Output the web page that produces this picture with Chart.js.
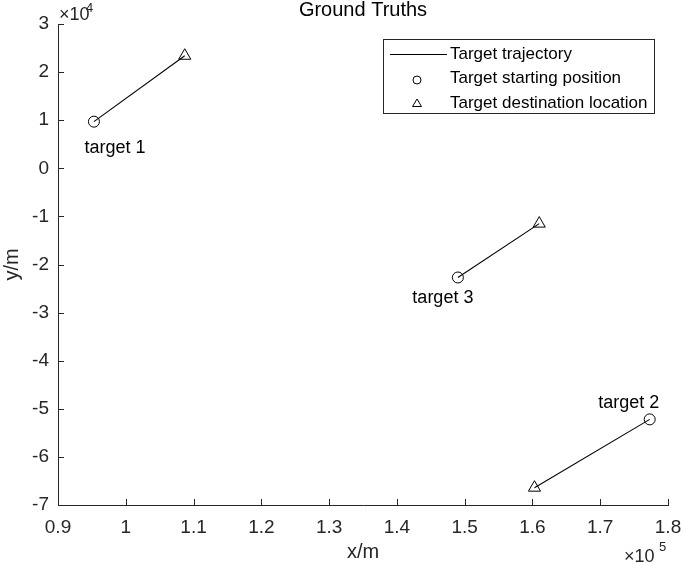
<!DOCTYPE html>
<html>
<head>
<meta charset="utf-8">
<script src="https://cdn.jsdelivr.net/npm/chart.js@4.4.0/dist/chart.umd.min.js"></script>
<style>
  html, body { margin: 0; padding: 0; background: #fff; }
  #wrap { width: 685px; height: 563px; }
</style>
</head>
<body>
<div id="wrap"><canvas id="chart"></canvas></div>
<script>
// Ground truth trajectories (x in m, y in m)
const targetNames = ['target 1', 'target 2', 'target 3'];
const startX = [95300, 177300, 149000];
const startY = [9700, -52200, -22700];
const endX = [108700, 160300, 161000];
const endY = [23400, -66400, -11500];

const xTicks = [90000, 100000, 110000, 120000, 130000, 140000, 150000, 160000, 170000, 180000];
const yTicks = [30000, 20000, 10000, 0, -10000, -20000, -30000, -40000, -50000, -60000, -70000];

const legendItems = ['Target trajectory', 'Target starting position', 'Target destination location'];

// label offsets (pixels) from starting point
const labelOffsets = [[21, 26], [-21, -16], [-15, 21]];

const FONT = '"Liberation Sans", Arial, Helvetica, sans-serif';
const AX = '#262626';

const lineSets = targetNames.map((name, i) => ({
    label: name,
    data: [{ x: startX[i], y: startY[i] }, { x: endX[i], y: endY[i] }],
    showLine: true,
    borderColor: '#000',
    borderWidth: 1.1,
    pointRadius: 0
}));

const startSet = {
    label: 'start',
    data: startX.map((x, i) => ({ x: x, y: startY[i] })),
    pointStyle: 'circle',
    pointRadius: 5.5,
    borderColor: '#000',
    backgroundColor: 'rgba(0,0,0,0)',
    borderWidth: 1
};

const endSet = {
    label: 'end',
    data: endX.map((x, i) => ({ x: x, y: endY[i] })),
    pointStyle: 'triangle',
    pointRadius: 7,
    borderColor: '#000',
    backgroundColor: 'rgba(0,0,0,0)',
    borderWidth: 1
};

// Draw MATLAB-like decorations: inward ticks, title, labels, legend
const decorations = {
    id: 'decorations',
    afterDraw(chart) {
        const ctx = chart.ctx;
        const a = chart.chartArea;
        const xs = chart.scales.x, ys = chart.scales.y;
        ctx.save();

        // inward ticks
        ctx.strokeStyle = AX;
        ctx.lineWidth = 1;
        ctx.beginPath();
        xTicks.forEach(v => {
            const px = Math.round(xs.getPixelForValue(v)) + 0.5;
            ctx.moveTo(px, a.bottom);
            ctx.lineTo(px, a.bottom - 6);
        });
        yTicks.forEach(v => {
            const py = Math.round(ys.getPixelForValue(v)) + 0.5;
            ctx.moveTo(a.left, py);
            ctx.lineTo(a.left + 6, py);
        });
        ctx.stroke();

        ctx.fillStyle = '#000';
        ctx.textAlign = 'center';
        ctx.textBaseline = 'middle';

        // title
        ctx.font = '20px ' + FONT;
        ctx.fillText('Ground Truths', (a.left + a.right) / 2, 10);

        // axis titles
        ctx.fillStyle = AX;
        ctx.font = '20px ' + FONT;
        ctx.fillText('x/m', (a.left + a.right) / 2, 552);
        ctx.save();
        ctx.translate(12, (a.top + a.bottom) / 2);
        ctx.rotate(-Math.PI / 2);
        ctx.fillText('y/m', 0, 0);
        ctx.restore();

        // exponent labels
        ctx.textAlign = 'left';
        ctx.font = '18px ' + FONT;
        ctx.fillText('\u00d710', 59, 15);
        ctx.font = '13px ' + FONT;
        ctx.fillText('4', 86, 8);
        ctx.font = '18px ' + FONT;
        ctx.fillText('\u00d710', 624, 557);
        ctx.font = '13px ' + FONT;
        ctx.fillText('5', 659, 547);

        // target labels
        ctx.fillStyle = '#000';
        ctx.font = '18px ' + FONT;
        ctx.textAlign = 'center';
        targetNames.forEach((name, i) => {
            const px = xs.getPixelForValue(startX[i]);
            const py = ys.getPixelForValue(startY[i]);
            ctx.fillText(name, px + labelOffsets[i][0], py + labelOffsets[i][1]);
        });

        // legend
        const bx = 383.5, by = 39.5, bw = 271, bh = 74;
        ctx.fillStyle = '#fff';
        ctx.fillRect(bx, by, bw, bh);
        ctx.strokeStyle = AX;
        ctx.lineWidth = 1;
        ctx.strokeRect(bx, by, bw, bh);
        ctx.strokeStyle = '#000';
        ctx.beginPath();
        ctx.moveTo(390, 54.5);
        ctx.lineTo(447, 54.5);
        ctx.stroke();
        ctx.beginPath();
        ctx.arc(417, 80, 4, 0, Math.PI * 2);
        ctx.stroke();
        ctx.beginPath();
        ctx.moveTo(417, 99);
        ctx.lineTo(421.5, 106.5);
        ctx.lineTo(412.5, 106.5);
        ctx.closePath();
        ctx.stroke();
        ctx.fillStyle = '#000';
        ctx.font = '17px ' + FONT;
        ctx.textAlign = 'left';
        legendItems.forEach((t, i) => {
            ctx.fillText(t, 450, 54 + i * 24.5);
        });

        ctx.restore();
    }
};

new Chart(document.getElementById('chart'), {
    type: 'scatter',
    data: { datasets: [...lineSets, startSet, endSet] },
    options: {
        responsive: true,
        maintainAspectRatio: false,
        animation: false,
        layout: { padding: { top: 24, right: 17, left: 0, bottom: 0 } },
        plugins: {
            legend: { display: false },
            tooltip: { enabled: false },
            title: { display: false }
        },
        scales: {
            x: {
                type: 'linear',
                min: 90000,
                max: 180000,
                afterBuildTicks: s => { s.ticks = xTicks.map(v => ({ value: v })); },
                afterFit: s => { s.height = 58; s.paddingLeft = 0; s.paddingRight = 0; },
                grid: { display: false, drawTicks: false },
                border: { display: true, color: AX, width: 1 },
                ticks: {
                    color: AX,
                    padding: 11,
                    maxRotation: 0,
                    autoSkip: false,
                    font: { family: FONT, size: 19 },
                    callback: v => String(Math.round(v / 1000) / 100)
                }
            },
            y: {
                type: 'linear',
                min: -70000,
                max: 30000,
                afterBuildTicks: s => { s.ticks = yTicks.map(v => ({ value: v })); },
                afterFit: s => { s.width = 58; s.paddingTop = 0; s.paddingBottom = 0; },
                grid: { display: false, drawTicks: false },
                border: { display: true, color: AX, width: 1 },
                ticks: {
                    color: AX,
                    padding: 9,
                    autoSkip: false,
                    font: { family: FONT, size: 19 },
                    callback: v => String(Math.round(v / 10000))
                }
            }
        }
    },
    plugins: [decorations]
});
</script>
</body>
</html>
